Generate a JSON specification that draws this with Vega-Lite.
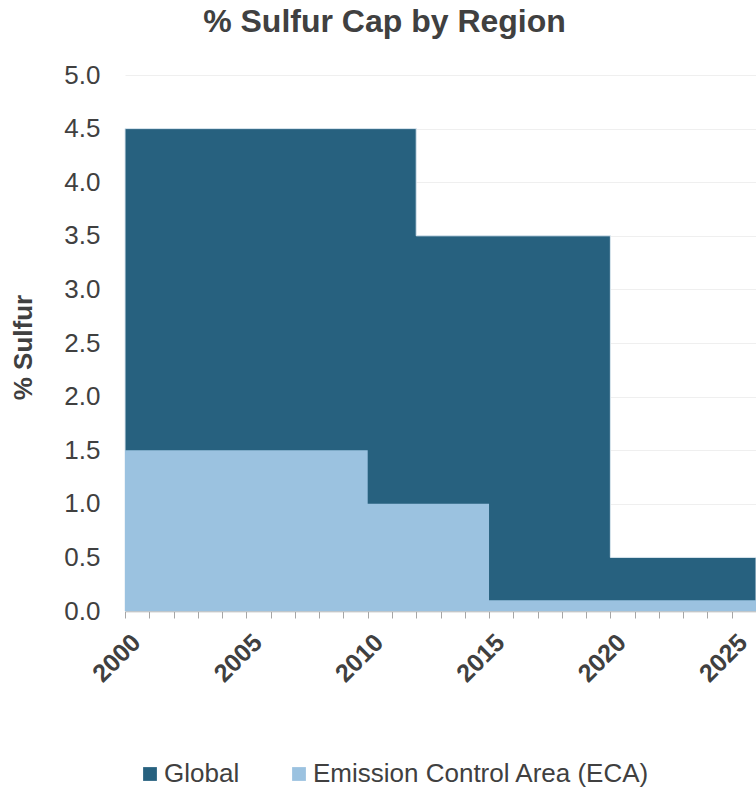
{
  "$schema": "https://vega.github.io/schema/vega-lite/v6.json",
  "autosize": "none",
  "width": 631,
  "height": 536,
  "padding": {"left": 125, "top": 75, "right": 0, "bottom": 178},
  "background": "white",
  "config": {
    "font": "Liberation Sans",
    "view": {"stroke": null},
    "axis": {"labelColor": "#404040", "titleColor": "#404040"}
  },
  "title": {
    "text": "% Sulfur Cap by Region",
    "fontSize": 32,
    "fontWeight": "bold",
    "color": "#404040",
    "anchor": "middle",
    "dx": -56,
    "offset": 23
  },
  "datasets": {
    "caps": [
      {"year": 2000, "region": "Global", "sulfur": 4.5},
      {"year": 2012, "region": "Global", "sulfur": 3.5},
      {"year": 2020, "region": "Global", "sulfur": 0.5},
      {"year": 2026, "region": "Global", "sulfur": 0.5},
      {"year": 2000, "region": "Emission Control Area (ECA)", "sulfur": 1.5},
      {"year": 2010, "region": "Emission Control Area (ECA)", "sulfur": 1.0},
      {"year": 2015, "region": "Emission Control Area (ECA)", "sulfur": 0.1},
      {"year": 2026, "region": "Emission Control Area (ECA)", "sulfur": 0.1}
    ]
  },
  "data": {"name": "caps"},
  "encoding": {
    "x": {
      "field": "year",
      "type": "quantitative",
      "scale": {"domain": [2000, 2026], "nice": false, "zero": false},
      "axis": {
        "title": null,
        "values": [2000, 2001, 2002, 2003, 2004, 2005, 2006, 2007, 2008, 2009, 2010, 2011, 2012, 2013, 2014, 2015, 2016, 2017, 2018, 2019, 2020, 2021, 2022, 2023, 2024, 2025, 2026],
        "format": "d",
        "labelExpr": "datum.value % 5 === 0 ? datum.label : ''",
        "labelAngle": -45,
        "labelAlign": "right",
        "labelBaseline": "middle",
        "labelFontSize": 25,
        "labelFontWeight": "bold",
        "labelPadding": 20,
        "labelOffset": 11,
        "labelOverlap": false,
        "labelBound": false,
        "labelFlush": false,
        "grid": false,
        "domainColor": "#a6a6a6",
        "tickColor": "#a6a6a6",
        "tickSize": 7,
        "domainWidth": 1.5
      }
    },
    "y": {
      "field": "sulfur",
      "type": "quantitative",
      "stack": null,
      "scale": {"domain": [0, 5], "nice": false},
      "axis": {
        "title": "% Sulfur",
        "titleFontSize": 26,
        "titleFontWeight": "bold",
        "titleX": -94,
        "titleY": 272,
        "titleAngle": -90,
        "titleAlign": "center",
        "titleBaseline": "alphabetic",
        "values": [0, 0.5, 1, 1.5, 2, 2.5, 3, 3.5, 4, 4.5, 5],
        "format": ".1f",
        "labelFontSize": 26,
        "labelPadding": 25,
        "ticks": false,
        "domain": false,
        "grid": true,
        "gridColor": "#efefef",
        "gridWidth": 1
      }
    },
    "color": {
      "field": "region",
      "type": "nominal",
      "scale": {
        "domain": ["Global", "Emission Control Area (ECA)"],
        "range": ["#27617f", "#9bc2e0"]
      },
      "legend": {
        "title": null,
        "orient": "none",
        "legendX": 12,
        "legendY": 686,
        "direction": "horizontal",
        "symbolType": "square",
        "symbolSize": 190,
        "symbolStrokeWidth": 0,
        "labelFontSize": 26,
        "labelColor": "#404040",
        "labelLimit": 450,
        "labelOffset": 1,
        "columnPadding": 46
      }
    }
  },
  "layer": [
    {
      "transform": [{"filter": "datum.region === 'Global'"}],
      "mark": {"type": "area", "interpolate": "step-after", "stroke": "#dbe7f0", "strokeWidth": 1}
    },
    {
      "transform": [{"filter": "datum.region === 'Emission Control Area (ECA)'"}],
      "mark": {"type": "area", "interpolate": "step-after"}
    }
  ]
}
